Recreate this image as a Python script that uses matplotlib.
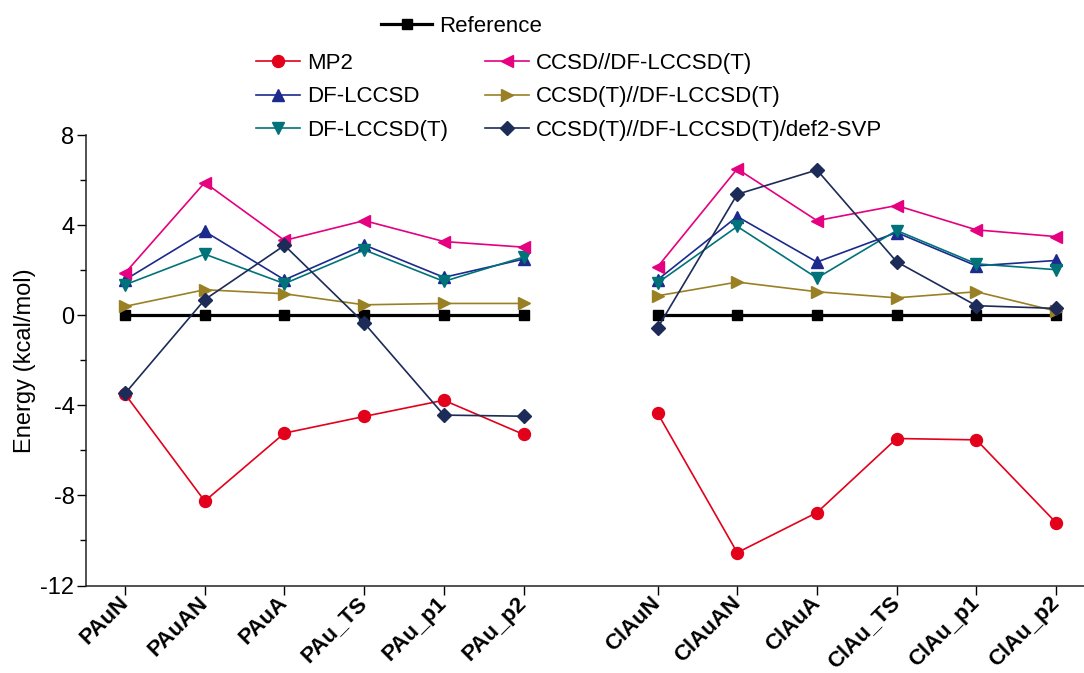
import matplotlib.pyplot as plt
from matplotlib.ticker import MultipleLocator

plt.rcParams['font.family'] = ['Liberation Sans', 'DejaVu Sans']
plt.rcParams['axes.unicode_minus'] = False

# categories (two groups of structures)
cats_pau = ["PAuN", "PAuAN", "PAuA", "PAu_TS", "PAu_p1", "PAu_p2"]
cats_clau = ["ClAuN", "ClAuAN", "ClAuA", "ClAu_TS", "ClAu_p1", "ClAu_p2"]

# relative energies, kcal/mol (PAu group then ClAu group)
reference = [0, 0, 0, 0, 0, 0, 0, 0, 0, 0, 0, 0]
mp2 = [-3.50, -8.25, -5.23, -4.49, -3.77, -5.29,
       -4.34, -10.54, -8.76, -5.47, -5.53, -9.21]
df_lccsd = [1.58, 3.73, 1.58, 3.13, 1.69, 2.50,
            1.58, 4.39, 2.37, 3.68, 2.20, 2.44]
df_lccsd_t = [1.36, 2.72, 1.41, 2.91, 1.51, 2.59,
              1.44, 3.95, 1.66, 3.77, 2.29, 2.03]
ccsd = [1.88, 5.90, 3.33, 4.21, 3.28, 3.03,
        2.15, 6.51, 4.21, 4.88, 3.80, 3.50]
ccsd_t = [0.40, 1.14, 0.96, 0.47, 0.53, 0.53,
          0.87, 1.48, 1.05, 0.78, 1.05, 0.19]
ccsd_t_svp = [-3.47, 0.70, 3.11, -0.34, -4.43, -4.48,
              -0.56, 5.38, 6.46, 2.38, 0.43, 0.31]

n = len(cats_pau)
gap = 1.68
x1 = list(range(n))
x2 = [i + n - 1 + gap for i in range(n)]

fig = plt.figure(figsize=(10.84, 6.73), dpi=100)
ax = fig.add_axes([86 / 1084, 1 - 585.5 / 673, 1 - 86 / 1084, (585.5 - 135.3) / 673])

series = [
    (mp2, "MP2", "#E3001B", "o", 8.6),
    (df_lccsd, "DF-LCCSD", "#1B2A8C", "^", 9),
    (df_lccsd_t, "DF-LCCSD(T)", "#00737A", "v", 9),
    (ccsd, "CCSD//DF-LCCSD(T)", "#E4007F", "<", 9),
    (ccsd_t, "CCSD(T)//DF-LCCSD(T)", "#9A8024", ">", 9),
    (ccsd_t_svp, "CCSD(T)//DF-LCCSD(T)/def2-SVP", "#1C2B57", "D", 7.5),
]

ref_handle = None
for xs, sl in ((x1, slice(0, n)), (x2, slice(n, 2 * n))):
    h, = ax.plot(xs, reference[sl], color="black", lw=2.3, marker="s", ms=7.5, zorder=2)
    ref_handle = h

handles = []
for vals, lab, col, mk, ms in series:
    for xs, sl in ((x1, slice(0, n)), (x2, slice(n, 2 * n))):
        h, = ax.plot(xs, vals[sl], color=col, lw=1.2, marker=mk, ms=ms,
                     markeredgecolor=col, label=lab, zorder=3)
    handles.append(h)

ax.set_xlim(-0.49, x2[-1] + 0.35)
ax.set_ylim(-12, 8)
ax.yaxis.set_major_locator(MultipleLocator(4))
ax.yaxis.set_minor_locator(MultipleLocator(2))
ax.set_xticks(x1 + x2)
ax.set_xticklabels(cats_pau + cats_clau, rotation=45, ha="right", va="center",
                   rotation_mode="anchor", fontsize=16, fontweight="bold")
ax.tick_params(axis="x", length=6.3, width=1, pad=4)
ax.tick_params(axis="y", which="major", length=6.3, width=1, pad=2, labelsize=17)
ax.tick_params(axis="y", which="minor", length=4.3, width=1)
for s in ("top", "right"):
    ax.spines[s].set_visible(False)
for s in ("left", "bottom"):
    ax.spines[s].set_linewidth(1.1)
    ax.spines[s].set_color("#222222")

ax.set_ylabel("Energy (kcal/mol)", fontsize=17, labelpad=3)

fig.legend([ref_handle], ["Reference"], loc="center left",
           bbox_to_anchor=(381 / 1084, 1 - 26 / 673), frameon=False,
           fontsize=16, handlelength=2.3, handletextpad=0.3, borderpad=0,
           borderaxespad=0)
fig.legend(handles, [s[1] for s in series], loc="upper left", ncol=2,
           bbox_to_anchor=(256 / 1084, 1 - 53 / 673), frameon=False,
           fontsize=16, handlelength=2.0, handletextpad=0.3, borderpad=0,
           borderaxespad=0, labelspacing=0.56, columnspacing=1.66)

fig.savefig("out.png", dpi=100)
